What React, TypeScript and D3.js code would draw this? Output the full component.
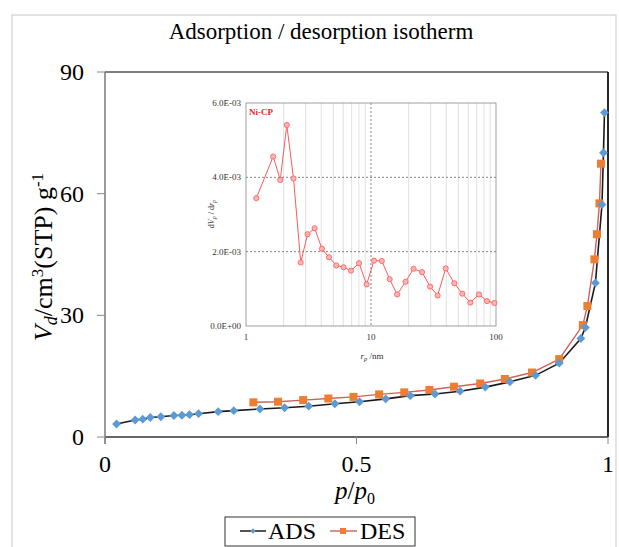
import React from "react";
import * as d3 from "d3";

// Main isotherm: relative pressure p/p0 vs adsorbed volume
const adsP = [0.023, 0.06, 0.075, 0.09, 0.111, 0.137, 0.153, 0.168, 0.186, 0.225, 0.256, 0.308, 0.357, 0.405, 0.457, 0.506, 0.558, 0.607, 0.656, 0.706, 0.756, 0.805, 0.856, 0.903, 0.946, 0.955, 0.975, 0.988, 0.991, 0.993];
const adsV = [3.2, 4.2, 4.4, 4.8, 5.0, 5.3, 5.35, 5.5, 5.75, 6.25, 6.5, 6.9, 7.2, 7.6, 8.2, 8.7, 9.4, 10.2, 10.6, 11.3, 12.3, 13.6, 15.2, 18.2, 24.3, 27.0, 38.0, 57.3, 70.1, 80.0];
const desP = [0.986, 0.983, 0.978, 0.973, 0.959, 0.95, 0.903, 0.849, 0.795, 0.746, 0.694, 0.645, 0.595, 0.545, 0.494, 0.444, 0.394, 0.344, 0.295];
const desV = [67.4, 57.6, 50.0, 43.8, 32.3, 27.6, 19.2, 15.9, 14.3, 13.2, 12.4, 11.6, 11.0, 10.5, 9.9, 9.5, 9.1, 8.7, 8.55];
const xTicks = [0, 0.5, 1];
const yTicks = [0, 30, 60, 90];

// Pore size distribution (inset)
const poreR = [1.21, 1.65, 1.88, 2.12, 2.4, 2.74, 3.11, 3.54, 4.05, 4.61, 5.28, 6.04, 6.92, 8.02, 9.23, 10.57, 12.2, 14.1, 16.2, 18.9, 21.9, 25.6, 29.7, 34.1, 39.6, 46.4, 53.8, 62.3, 73.1, 84.7, 97];
const poreDV = [3.44, 4.56, 3.93, 5.41, 3.97, 1.71, 2.47, 2.63, 2.08, 1.85, 1.63, 1.58, 1.49, 1.69, 1.12, 1.76, 1.75, 1.26, 0.85, 1.19, 1.54, 1.45, 1.06, 0.82, 1.55, 1.15, 0.87, 0.63, 0.85, 0.67, 0.62].map((v) => v * 1e-3);
const insetYTicks = [0, 0.002, 0.004, 0.006];
const insetYLabels = ["0.0E+00", "2.0E-03", "4.0E-03", "6.0E-03"];
const insetXTicks = [1, 10, 100];

const SERIF = "'Liberation Serif', 'Times New Roman', serif";

export default function App() {
  const W = 619, H = 547;
  const plot = { left: 105, right: 608, top: 72, bottom: 437 };
  const x = d3.scaleLinear().domain([0, 1]).range([plot.left, plot.right]);
  const y = d3.scaleLinear().domain([0, 90]).range([plot.bottom, plot.top]);

  const ads = adsP.map((p, i) => [p, adsV[i]] as [number, number]);
  const des = desP.map((p, i) => [p, desV[i]] as [number, number]);
  const line = d3.line<[number, number]>().x((d) => x(d[0])).y((d) => y(d[1]));

  const inset = { left: 246, right: 496, top: 103, bottom: 326 };
  const ix = d3.scaleLog().domain([1, 100]).range([inset.left, inset.right]);
  const iy = d3.scaleLinear().domain([0, 0.006]).range([inset.bottom, inset.top]);
  const pore = poreR.map((r, i) => [r, poreDV[i]] as [number, number]);
  const iline = d3.line<[number, number]>().x((d) => ix(d[0])).y((d) => iy(d[1]));
  const minorTicks: number[] = [];
  for (const dec of [1, 10]) for (let k = 2; k <= 9; k++) minorTicks.push(dec * k);

  const diamond = d3.symbol().type(d3.symbolDiamond2).size(50)()!;

  return (
    <svg width={W} height={H} style={{ position: "absolute", left: 0, top: 0 }}>
      <rect x={0} y={0} width={W} height={H} fill="#fff" />
      <rect x={12} y={15} width={604} height={545} fill="none" stroke="#c8c8c8" strokeWidth={1} />

      <text x={321} y={39} textAnchor="middle" fontFamily={SERIF} fontSize={23} fill="#000">
        Adsorption / desorption isotherm
      </text>

      {/* axes frame */}
      <line x1={plot.left} x2={plot.right} y1={plot.top} y2={plot.top} stroke="#555" strokeWidth={1.3} />
      <line x1={plot.right} x2={plot.right} y1={plot.top} y2={plot.bottom} stroke="#111" strokeWidth={1.8} />
      <line x1={plot.left} x2={plot.right} y1={plot.bottom} y2={plot.bottom} stroke="#333" strokeWidth={1.5} />
      <line x1={plot.left} x2={plot.left} y1={plot.top} y2={plot.bottom + 7} stroke="#777" strokeWidth={1.5} />

      {yTicks.map((t) => (
        <g key={"y" + t}>
          <line x1={plot.left - 8} x2={plot.left} y1={y(t)} y2={y(t)} stroke="#888" strokeWidth={1} />
          <text x={84} y={y(t) + 8} textAnchor="end" fontFamily={SERIF} fontSize={24} fill="#000">{t}</text>
        </g>
      ))}
      {xTicks.map((t) => (
        <g key={"x" + t}>
          <line x1={x(t)} x2={x(t)} y1={plot.bottom} y2={plot.bottom + 7} stroke="#888" strokeWidth={1} />
          <text x={x(t)} y={472} textAnchor="middle" fontFamily={SERIF} fontSize={24} fill="#000">{t}</text>
        </g>
      ))}

      <text x={355} y={499} textAnchor="middle" fontFamily={SERIF} fontSize={25} fill="#000">
        <tspan fontStyle="italic">p</tspan>/<tspan fontStyle="italic">p</tspan>
        <tspan fontSize={16} dy={5}>0</tspan>
      </text>

      <text transform="translate(52,257) rotate(-90)" textAnchor="middle" fontFamily={SERIF} fontSize={26} fill="#000">
        <tspan fontStyle="italic">V</tspan>
        <tspan fontStyle="italic" fontSize={18} dy={5}>d</tspan>
        <tspan dy={-5}>/cm</tspan>
        <tspan fontSize={17} dy={-9}>3</tspan>
        <tspan dy={9}>(STP) g</tspan>
        <tspan fontSize={17} dy={-9}>-1</tspan>
      </text>

      {/* isotherm branches */}
      <path d={line(ads)!} fill="none" stroke="#1a1a1a" strokeWidth={1.6} />
      <path d={line(des)!} fill="none" stroke="#d0605a" strokeWidth={1.4} />
      {des.map((d, i) => (
        <rect key={"d" + i} x={x(d[0]) - 4} y={y(d[1]) - 4} width={8} height={8} fill="#ed7d31" />
      ))}
      {ads.map((d, i) => (
        <path key={"a" + i} d={diamond} transform={`translate(${x(d[0])},${y(d[1])})`} fill="#5b9bd5" />
      ))}

      {/* inset: pore size distribution */}
      <rect x={inset.left} y={inset.top} width={inset.right - inset.left} height={inset.bottom - inset.top} fill="#fff" />
      {minorTicks.map((t) => (
        <line key={"m" + t} x1={ix(t)} x2={ix(t)} y1={inset.top} y2={inset.bottom} stroke="#d9d9d9" strokeWidth={0.8} />
      ))}
      <line x1={ix(10)} x2={ix(10)} y1={inset.top} y2={inset.bottom} stroke="#666" strokeWidth={0.8} strokeDasharray="2,2" />
      {insetYTicks.slice(1, 3).map((t) => (
        <line key={"ig" + t} x1={inset.left} x2={inset.right} y1={iy(t)} y2={iy(t)} stroke="#666" strokeWidth={0.8} strokeDasharray="2,2" />
      ))}
      <rect x={inset.left} y={inset.top} width={inset.right - inset.left} height={inset.bottom - inset.top} fill="none" stroke="#888" strokeWidth={0.8} />
      {insetYTicks.map((t, i) => (
        <text key={"iy" + t} x={241} y={iy(t) + 3} textAnchor="end" fontFamily={SERIF} fontSize={9} fill="#333">{insetYLabels[i]}</text>
      ))}
      {insetXTicks.map((t) => (
        <text key={"ix" + t} x={ix(t)} y={340} textAnchor="middle" fontFamily={SERIF} fontSize={9} fill="#333">{t}</text>
      ))}
      <text x={372} y={359} textAnchor="middle" fontFamily={SERIF} fontSize={9} fill="#333">
        <tspan fontStyle="italic">r</tspan>
        <tspan fontStyle="italic" fontSize={6.5} dy={2}>p</tspan>
        <tspan dy={-2}> /nm</tspan>
      </text>
      <text transform="translate(214,214) rotate(-90)" textAnchor="middle" fontFamily={SERIF} fontSize={8} fill="#333">
        <tspan>d</tspan><tspan fontStyle="italic">V</tspan>
        <tspan fontStyle="italic" fontSize={6} dy={1.5}>p</tspan>
        <tspan dy={-1.5}> / d</tspan><tspan fontStyle="italic">r</tspan>
        <tspan fontStyle="italic" fontSize={6} dy={1.5}>p</tspan>
      </text>
      <text x={249} y={115} fontFamily={SERIF} fontSize={9} fontWeight="bold" fill="#e8262b">Ni-CP</text>
      <path d={iline(pore)!} fill="none" stroke="#ff5a5a" strokeWidth={1} />
      {pore.map((d, i) => (
        <circle key={"p" + i} cx={ix(d[0])} cy={iy(d[1])} r={2.6} fill="#ffb3b3" stroke="#ff5a5a" strokeWidth={0.8} />
      ))}

      {/* legend */}
      <rect x={225} y={517} width={190} height={29} fill="#fff" stroke="#333" strokeWidth={1} />
      <line x1={240} x2={266} y1={531} y2={531} stroke="#1a1a1a" strokeWidth={1.5} />
      <path d={diamond} transform="translate(253,531) scale(0.6)" fill="#5b9bd5" />
      <text x={268} y={539} fontFamily={SERIF} fontSize={24} fill="#000">ADS</text>
      <line x1={330} x2={357} y1={531} y2={531} stroke="#d0605a" strokeWidth={1.4} />
      <rect x={340} y={528} width={6} height={6} fill="#ed7d31" />
      <text x={360} y={539} fontFamily={SERIF} fontSize={24} fill="#000">DES</text>
    </svg>
  );
}
